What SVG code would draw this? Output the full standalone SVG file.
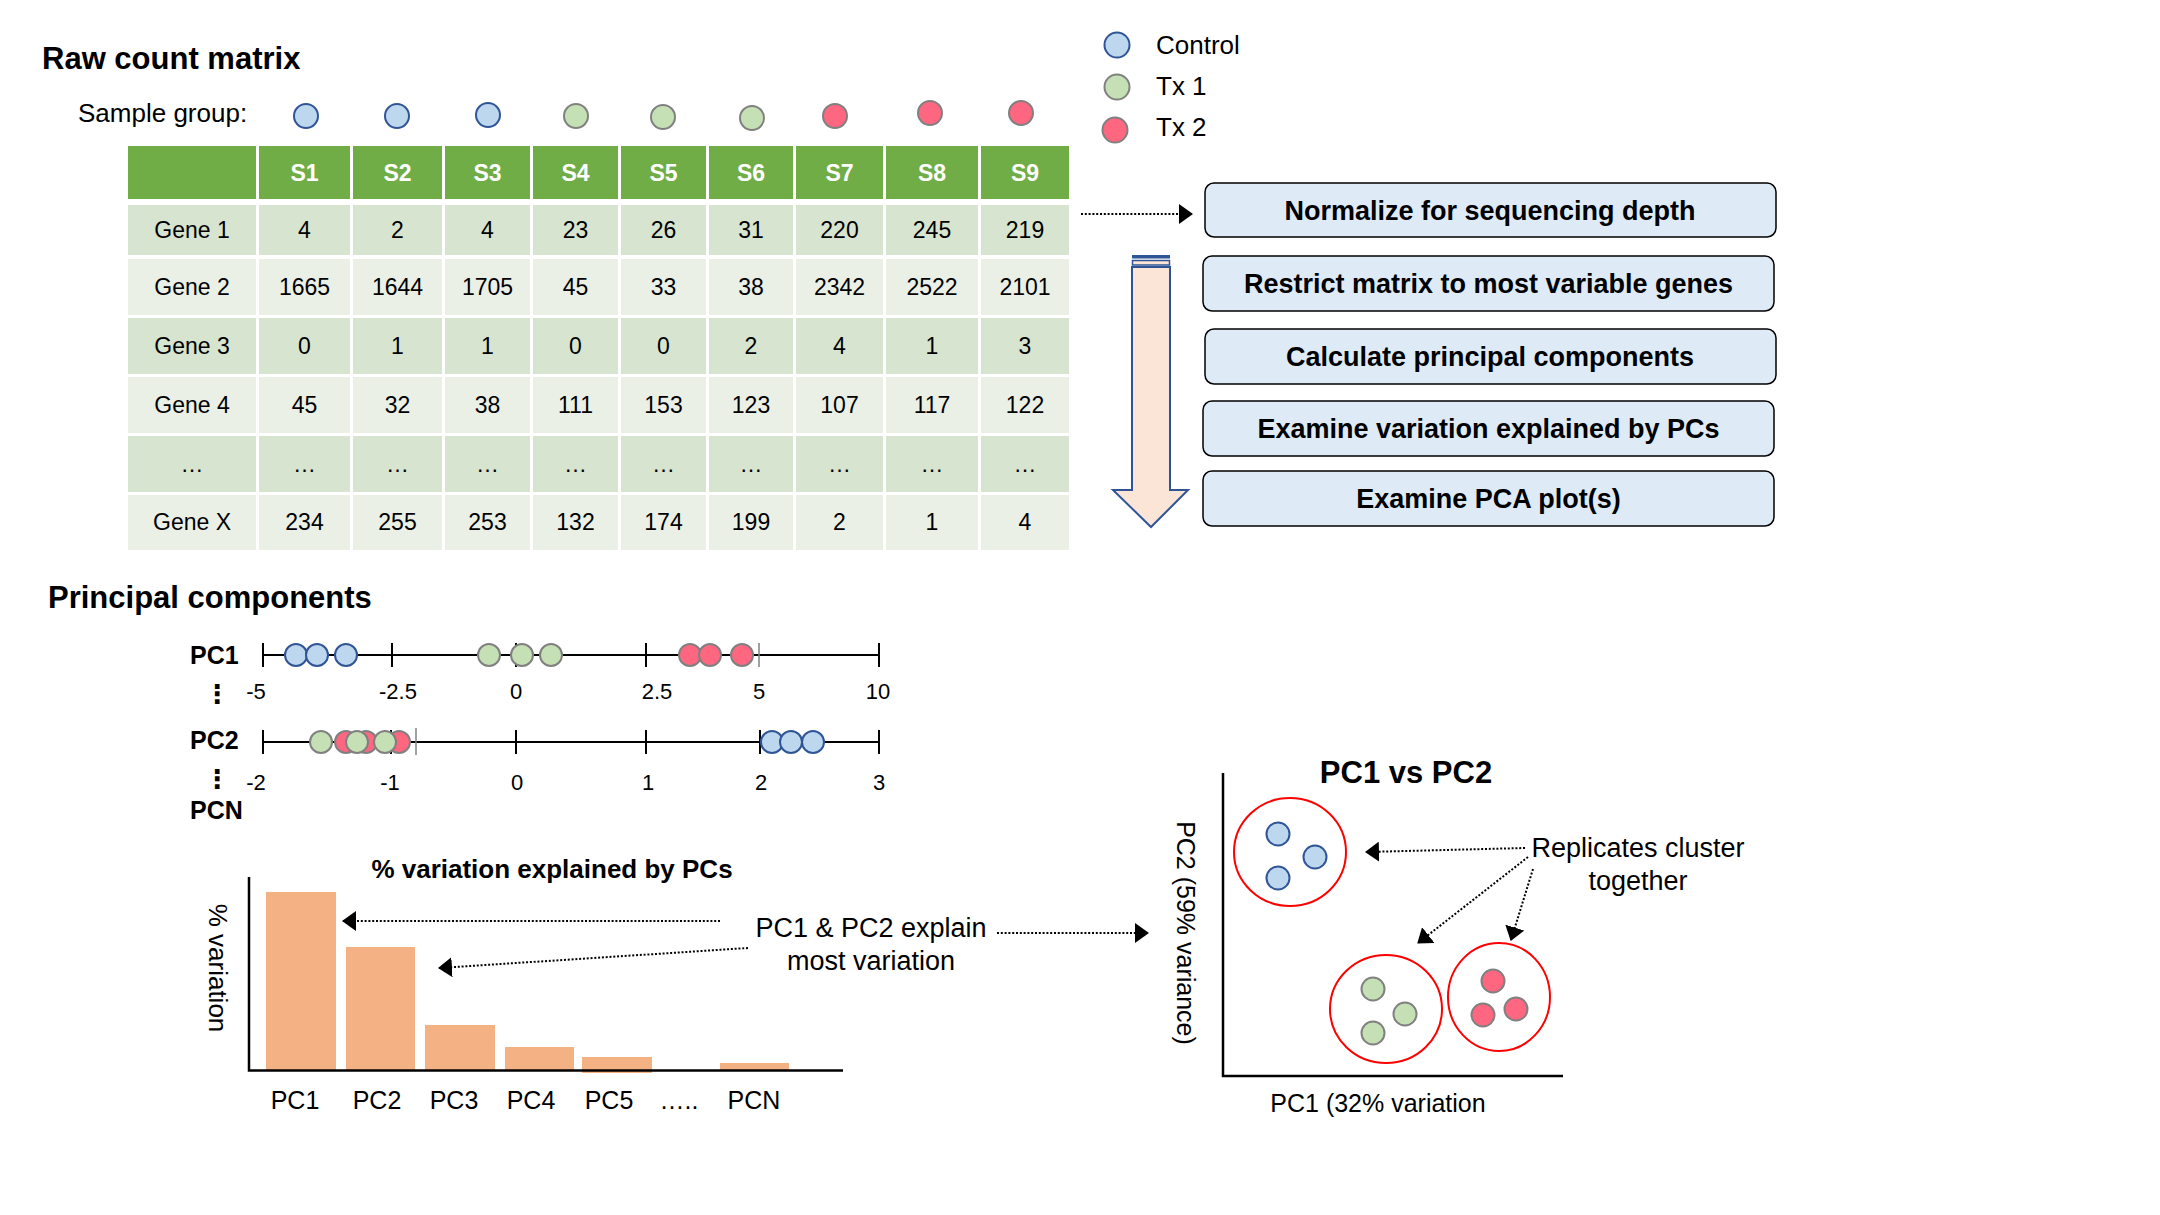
<svg xmlns="http://www.w3.org/2000/svg" width="2160" height="1215" viewBox="0 0 2160 1215">
<style>
text{font-family:"Liberation Sans",Arial,sans-serif;fill:#000}
.title{font-size:31px;font-weight:bold}
.cell{font-size:23px;text-anchor:middle}
.hdr{font-size:23px;font-weight:bold;fill:#fff;text-anchor:middle}
.lbl{font-size:26px}
.box{fill:#DEEBF7;stroke:#000;stroke-width:1.5}
.boxt{font-size:27px;font-weight:bold;text-anchor:middle}
.pcl{font-size:25px;font-weight:bold}
.num{font-size:22px;text-anchor:middle}
.axis{stroke:#000;stroke-width:2.5;fill:none}
.tick{stroke:#000;stroke-width:2}
.ctl{fill:#BDD7EE;stroke:#2F5597;stroke-width:2}
.tx1{fill:#C5E0B4;stroke:#808080;stroke-width:2}
.tx2{fill:#FF6680;stroke:#808080;stroke-width:2}
.bar{fill:#F4B183}
.dot{stroke:#000;stroke-width:2;stroke-dasharray:2 1.8;fill:none}
.clu{fill:none;stroke:#FF0000;stroke-width:2}
.g1{fill:#D7E4CF}
.g2{fill:#EBF0E7}
.hd{fill:#70AD47}
.mid{text-anchor:middle}
</style>
<defs>
<marker id="ah" markerUnits="userSpaceOnUse" markerWidth="14" markerHeight="20" refX="13" refY="10" orient="auto">
<path d="M0,0 L14,10 L0,20 Z" fill="#000"/>
</marker>
</defs>
<rect width="2160" height="1215" fill="#fff"/>

<g id="raw-count-matrix">
<text class="title" x="42" y="69">Raw count matrix</text>
<text class="lbl" x="78" y="122">Sample group:</text>
<g id="sample-dots">
<circle class="ctl" cx="306" cy="116" r="12"/>
<circle class="ctl" cx="397" cy="116" r="12"/>
<circle class="ctl" cx="488" cy="115" r="12"/>
<circle class="tx1" cx="576" cy="116" r="12"/>
<circle class="tx1" cx="663" cy="117" r="12"/>
<circle class="tx1" cx="752" cy="118" r="12"/>
<circle class="tx2" cx="835" cy="116" r="12"/>
<circle class="tx2" cx="930" cy="113" r="12"/>
<circle class="tx2" cx="1021" cy="113" r="12"/>
</g>
<g id="table">
<g class="hd">
<rect x="128" y="146" width="128" height="53"/>
<rect x="259" y="146" width="91" height="53"/>
<rect x="353" y="146" width="89" height="53"/>
<rect x="445" y="146" width="85" height="53"/>
<rect x="533" y="146" width="85" height="53"/>
<rect x="621" y="146" width="85" height="53"/>
<rect x="709" y="146" width="84" height="53"/>
<rect x="796" y="146" width="87" height="53"/>
<rect x="886" y="146" width="92" height="53"/>
<rect x="981" y="146" width="88" height="53"/>
</g>
<text class="hdr" y="181"><tspan x="304.5">S1</tspan><tspan x="397.5">S2</tspan><tspan x="487.5">S3</tspan><tspan x="575.5">S4</tspan><tspan x="663.5">S5</tspan><tspan x="751">S6</tspan><tspan x="839.5">S7</tspan><tspan x="932">S8</tspan><tspan x="1025">S9</tspan></text>

<g class="g1">
<rect x="128" y="205" width="128" height="50"/><rect x="259" y="205" width="91" height="50"/><rect x="353" y="205" width="89" height="50"/><rect x="445" y="205" width="85" height="50"/><rect x="533" y="205" width="85" height="50"/><rect x="621" y="205" width="85" height="50"/><rect x="709" y="205" width="84" height="50"/><rect x="796" y="205" width="87" height="50"/><rect x="886" y="205" width="92" height="50"/><rect x="981" y="205" width="88" height="50"/>
<rect x="128" y="318" width="128" height="56"/><rect x="259" y="318" width="91" height="56"/><rect x="353" y="318" width="89" height="56"/><rect x="445" y="318" width="85" height="56"/><rect x="533" y="318" width="85" height="56"/><rect x="621" y="318" width="85" height="56"/><rect x="709" y="318" width="84" height="56"/><rect x="796" y="318" width="87" height="56"/><rect x="886" y="318" width="92" height="56"/><rect x="981" y="318" width="88" height="56"/>
<rect x="128" y="436" width="128" height="56"/><rect x="259" y="436" width="91" height="56"/><rect x="353" y="436" width="89" height="56"/><rect x="445" y="436" width="85" height="56"/><rect x="533" y="436" width="85" height="56"/><rect x="621" y="436" width="85" height="56"/><rect x="709" y="436" width="84" height="56"/><rect x="796" y="436" width="87" height="56"/><rect x="886" y="436" width="92" height="56"/><rect x="981" y="436" width="88" height="56"/>
</g>
<g class="g2">
<rect x="128" y="259" width="128" height="56"/><rect x="259" y="259" width="91" height="56"/><rect x="353" y="259" width="89" height="56"/><rect x="445" y="259" width="85" height="56"/><rect x="533" y="259" width="85" height="56"/><rect x="621" y="259" width="85" height="56"/><rect x="709" y="259" width="84" height="56"/><rect x="796" y="259" width="87" height="56"/><rect x="886" y="259" width="92" height="56"/><rect x="981" y="259" width="88" height="56"/>
<rect x="128" y="377" width="128" height="56"/><rect x="259" y="377" width="91" height="56"/><rect x="353" y="377" width="89" height="56"/><rect x="445" y="377" width="85" height="56"/><rect x="533" y="377" width="85" height="56"/><rect x="621" y="377" width="85" height="56"/><rect x="709" y="377" width="84" height="56"/><rect x="796" y="377" width="87" height="56"/><rect x="886" y="377" width="92" height="56"/><rect x="981" y="377" width="88" height="56"/>
<rect x="128" y="495" width="128" height="55"/><rect x="259" y="495" width="91" height="55"/><rect x="353" y="495" width="89" height="55"/><rect x="445" y="495" width="85" height="55"/><rect x="533" y="495" width="85" height="55"/><rect x="621" y="495" width="85" height="55"/><rect x="709" y="495" width="84" height="55"/><rect x="796" y="495" width="87" height="55"/><rect x="886" y="495" width="92" height="55"/><rect x="981" y="495" width="88" height="55"/>
</g>
<text class="cell" y="238"><tspan x="192">Gene 1</tspan><tspan x="304.5">4</tspan><tspan x="397.5">2</tspan><tspan x="487.5">4</tspan><tspan x="575.5">23</tspan><tspan x="663.5">26</tspan><tspan x="751">31</tspan><tspan x="839.5">220</tspan><tspan x="932">245</tspan><tspan x="1025">219</tspan></text>
<text class="cell" y="295"><tspan x="192">Gene 2</tspan><tspan x="304.5">1665</tspan><tspan x="397.5">1644</tspan><tspan x="487.5">1705</tspan><tspan x="575.5">45</tspan><tspan x="663.5">33</tspan><tspan x="751">38</tspan><tspan x="839.5">2342</tspan><tspan x="932">2522</tspan><tspan x="1025">2101</tspan></text>
<text class="cell" y="354"><tspan x="192">Gene 3</tspan><tspan x="304.5">0</tspan><tspan x="397.5">1</tspan><tspan x="487.5">1</tspan><tspan x="575.5">0</tspan><tspan x="663.5">0</tspan><tspan x="751">2</tspan><tspan x="839.5">4</tspan><tspan x="932">1</tspan><tspan x="1025">3</tspan></text>
<text class="cell" y="413"><tspan x="192">Gene 4</tspan><tspan x="304.5">45</tspan><tspan x="397.5">32</tspan><tspan x="487.5">38</tspan><tspan x="575.5">111</tspan><tspan x="663.5">153</tspan><tspan x="751">123</tspan><tspan x="839.5">107</tspan><tspan x="932">117</tspan><tspan x="1025">122</tspan></text>
<text class="cell" y="472"><tspan x="192">…</tspan><tspan x="304.5">…</tspan><tspan x="397.5">…</tspan><tspan x="487.5">…</tspan><tspan x="575.5">…</tspan><tspan x="663.5">…</tspan><tspan x="751">…</tspan><tspan x="839.5">…</tspan><tspan x="932">…</tspan><tspan x="1025">…</tspan></text>
<text class="cell" y="530"><tspan x="192">Gene X</tspan><tspan x="304.5">234</tspan><tspan x="397.5">255</tspan><tspan x="487.5">253</tspan><tspan x="575.5">132</tspan><tspan x="663.5">174</tspan><tspan x="751">199</tspan><tspan x="839.5">2</tspan><tspan x="932">1</tspan><tspan x="1025">4</tspan></text>
</g>
</g>

<g id="legend">
<circle class="ctl" cx="1117" cy="45" r="12.5"/>
<circle class="tx1" cx="1117" cy="87" r="12.5"/>
<circle class="tx2" cx="1115" cy="130" r="12.5"/>
<text class="lbl" x="1156" y="54">Control</text>
<text class="lbl" x="1156" y="95">Tx 1</text>
<text class="lbl" x="1156" y="136">Tx 2</text>
</g>

<g id="workflow-arrow">
<rect x="1132" y="255" width="38" height="3.5" fill="#2F5597"/>
<rect x="1132.5" y="260.5" width="37" height="4.5" fill="#FBE5D6" stroke="#2F5597" stroke-width="1.5"/>
<path d="M1132,267 L1170,267 L1170,490 L1188,490 L1151,527 L1113,490 L1132,490 Z" fill="#FBE5D6" stroke="#2F5597" stroke-width="2"/>
</g>
<g id="step-normalize"><rect class="box" x="1205" y="183" width="571" height="54" rx="9"/><text class="boxt" x="1490" y="220">Normalize for sequencing depth</text></g>
<g id="step-restrict"><rect class="box" x="1203" y="256" width="571" height="55" rx="9"/><text class="boxt" x="1488.5" y="293">Restrict matrix to most variable genes</text></g>
<g id="step-calculate"><rect class="box" x="1205" y="329" width="571" height="55" rx="9"/><text class="boxt" x="1490" y="366">Calculate principal components</text></g>
<g id="step-variation"><rect class="box" x="1203" y="401" width="571" height="55" rx="9"/><text class="boxt" x="1488.5" y="438">Examine variation explained by PCs</text></g>
<g id="step-pca"><rect class="box" x="1203" y="471" width="571" height="55" rx="9"/><text class="boxt" x="1488.5" y="508">Examine PCA plot(s)</text></g>

<g id="principal-components">
<text class="title" x="48" y="608">Principal components</text>
<text class="pcl" x="190" y="664">PC1</text>
<text class="pcl" x="190" y="749">PC2</text>
<text class="pcl" x="190" y="819">PCN</text>
<text x="217" y="703" font-size="26" font-weight="bold" text-anchor="middle" style="font-family:'DejaVu Sans',sans-serif">⋮</text>
<text x="217" y="788" font-size="26" font-weight="bold" text-anchor="middle" style="font-family:'DejaVu Sans',sans-serif">⋮</text>
<g id="pc1-axis">
<line class="tick" x1="263" y1="655" x2="879" y2="655"/>
<line class="tick" x1="263" y1="643" x2="263" y2="667"/>
<line class="tick" x1="392" y1="643" x2="392" y2="667"/>
<line class="tick" x1="516" y1="643" x2="516" y2="667"/>
<line class="tick" x1="646" y1="643" x2="646" y2="667"/>
<line x1="759" y1="643" x2="759" y2="667" stroke="#808080" stroke-width="1.5"/>
<line class="tick" x1="879" y1="643" x2="879" y2="667"/>
<text class="num" y="699"><tspan x="256">-5</tspan><tspan x="398">-2.5</tspan><tspan x="516">0</tspan><tspan x="657">2.5</tspan><tspan x="759">5</tspan><tspan x="878">10</tspan></text>
<circle class="ctl" cx="296" cy="655" r="11"/>
<circle class="ctl" cx="317" cy="655" r="11"/>
<circle class="ctl" cx="346" cy="655" r="11"/>
<circle class="tx1" cx="489" cy="655" r="11"/>
<circle class="tx1" cx="522" cy="655" r="11"/>
<circle class="tx1" cx="551" cy="655" r="11"/>
<circle class="tx2" cx="690" cy="655" r="11"/>
<circle class="tx2" cx="710" cy="655" r="11"/>
<circle class="tx2" cx="742" cy="655" r="11"/>
</g>
<g id="pc2-axis">
<line class="tick" x1="263" y1="742" x2="879" y2="742"/>
<line class="tick" x1="263" y1="730" x2="263" y2="754"/>
<line class="tick" x1="391" y1="730" x2="391" y2="754"/>
<line x1="416" y1="728" x2="416" y2="755" stroke="#808080" stroke-width="1.5"/>
<line class="tick" x1="516" y1="730" x2="516" y2="754"/>
<line class="tick" x1="646" y1="730" x2="646" y2="754"/>
<line class="tick" x1="760" y1="730" x2="760" y2="754"/>
<line class="tick" x1="879" y1="730" x2="879" y2="754"/>
<text class="num" y="790"><tspan x="256">-2</tspan><tspan x="390">-1</tspan><tspan x="517">0</tspan><tspan x="648">1</tspan><tspan x="761">2</tspan><tspan x="879">3</tspan></text>
<circle class="tx2" cx="346" cy="742" r="11"/>
<circle class="tx2" cx="366" cy="742" r="11"/>
<circle class="tx2" cx="399" cy="742" r="11"/>
<circle class="tx1" cx="321" cy="742" r="11"/>
<circle class="tx1" cx="357" cy="742" r="11"/>
<circle class="tx1" cx="385" cy="742" r="11"/>
<circle class="ctl" cx="772" cy="742" r="11"/>
<circle class="ctl" cx="791" cy="742" r="11"/>
<circle class="ctl" cx="813" cy="742" r="11"/>
</g>
</g>

<g id="variation-chart">
<text class="mid" x="552" y="878" font-size="26" font-weight="bold">% variation explained by PCs</text>
<text class="mid" font-size="26" transform="translate(209,968) rotate(90)">% variation</text>
<rect class="bar" x="266" y="892" width="70" height="178"/>
<rect class="bar" x="346" y="947" width="69" height="123"/>
<rect class="bar" x="425" y="1025" width="70" height="45"/>
<rect class="bar" x="505" y="1047" width="69" height="23"/>
<rect class="bar" x="582" y="1057" width="70" height="16"/>
<rect class="bar" x="720" y="1063" width="69" height="7"/>
<polyline class="axis" points="249,877 249,1070.5 843,1070.5"/>
<text class="mid" font-size="25" y="1109"><tspan x="295">PC1</tspan><tspan x="377">PC2</tspan><tspan x="454">PC3</tspan><tspan x="531">PC4</tspan><tspan x="609">PC5</tspan><tspan x="679">…..</tspan><tspan x="754">PCN</tspan></text>
<text class="mid" font-size="27" x="871"><tspan x="871" y="937">PC1 &amp; PC2 explain</tspan><tspan x="871" y="970">most variation</tspan></text>
</g>

<g id="pca-plot">
<text class="mid" x="1406" y="783" font-size="31" font-weight="bold">PC1 vs PC2</text>
<text class="mid" font-size="25" transform="translate(1177,933) rotate(90)">PC2 (59% variance)</text>
<text class="mid" font-size="25" x="1378" y="1112">PC1 (32% variation</text>
<polyline class="axis" points="1223,773 1223,1076 1563,1076"/>
<ellipse class="clu" cx="1290" cy="852" rx="56" ry="54"/>
<ellipse class="clu" cx="1386" cy="1009" rx="56" ry="54"/>
<ellipse class="clu" cx="1499" cy="997" rx="51" ry="54"/>
<circle class="ctl" cx="1278" cy="834" r="11.5"/>
<circle class="ctl" cx="1315" cy="857" r="11.5"/>
<circle class="ctl" cx="1278" cy="878" r="11.5"/>
<circle class="tx1" cx="1373" cy="989" r="11.5"/>
<circle class="tx1" cx="1405" cy="1014" r="11.5"/>
<circle class="tx1" cx="1373" cy="1033" r="11.5"/>
<circle class="tx2" cx="1493" cy="981" r="11.5"/>
<circle class="tx2" cx="1516" cy="1009" r="11.5"/>
<circle class="tx2" cx="1483" cy="1015" r="11.5"/>
<text class="mid" font-size="27"><tspan x="1638" y="857">Replicates cluster</tspan><tspan x="1638" y="890">together</tspan></text>
</g>

<g id="connectors">
<line class="dot" x1="1081" y1="214" x2="1192" y2="214" marker-end="url(#ah)"/>
<line class="dot" x1="720" y1="921" x2="343" y2="921" marker-end="url(#ah)"/>
<line class="dot" x1="748" y1="948" x2="439" y2="968" marker-end="url(#ah)"/>
<line class="dot" x1="997" y1="933" x2="1148" y2="933" marker-end="url(#ah)"/>
<line class="dot" x1="1525" y1="848" x2="1366" y2="852" marker-end="url(#ah)"/>
<line class="dot" x1="1528" y1="857" x2="1418" y2="943" marker-end="url(#ah)"/>
<line class="dot" x1="1533" y1="869" x2="1511" y2="940" marker-end="url(#ah)"/>
</g>
</svg>
